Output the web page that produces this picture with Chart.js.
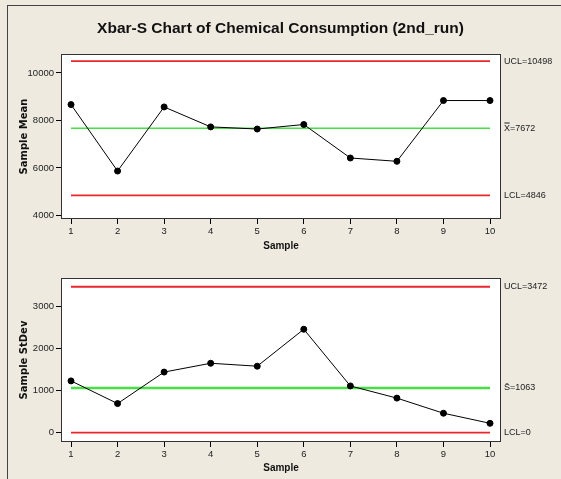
<!DOCTYPE html>
<html>
<head>
<meta charset="utf-8">
<script src="https://cdn.jsdelivr.net/npm/chart.js@4.4.1/dist/chart.umd.min.js"></script>
<style>
  body { margin: 0; background: #eeeae0; width: 561px; height: 479px; overflow: hidden; position: relative; }
  #frame { position: absolute; left: 7px; top: 5px; width: 700px; height: 700px; border-left: 1px solid #444; border-top: 1px solid #444; }
  canvas { position: absolute; left: 0; }
  #meanChart { top: 0; }
  #stdevChart { top: 256px; }
</style>
</head>
<body>
<div id="frame"></div>
<canvas id="meanChart" width="561" height="256"></canvas>
<canvas id="stdevChart" width="561" height="223"></canvas>
<script>
// --- datos ---
const samples = [1, 2, 3, 4, 5, 6, 7, 8, 9, 10];
const sampleMeans = [8670, 5870, 8570, 7730, 7640, 7830, 6420, 6280, 8840, 8840];
const sampleStDevs = [1230, 690, 1440, 1650, 1580, 2460, 1110, 820, 460, 220];

const meanTicks = [4000, 6000, 8000, 10000];
const stdevTicks = [0, 1000, 2000, 3000];

const meanUCL = 10498, meanCL = 7672, meanLCL = 4846;
const sdUCL = 3472, sdCL = 1063, sdLCL = 0;

const meanLabels = ['UCL=10498', 'X\u033F=7672', 'LCL=4846'];
const sdLabels = ['UCL=3472', 'S\u0304=1063', 'LCL=0'];

const NARROW = '"Liberation Sans Narrow", "Liberation Sans", Arial, sans-serif';
const RED = '#e8282c';
const GREEN = '#44e044';

// fondo blanco + marco + etiquetas de los límites
const framePlugin = {
  id: 'frame',
  beforeDraw(chart) {
    const { ctx, chartArea: a } = chart;
    ctx.save();
    ctx.fillStyle = '#fff';
    ctx.fillRect(a.left, a.top, a.right - a.left, a.bottom - a.top);
    ctx.restore();
  },
  afterDraw(chart, args, opts) {
    const { ctx, chartArea: a } = chart;
    ctx.save();
    ctx.strokeStyle = '#333';
    ctx.lineWidth = 1;
    ctx.strokeRect(a.left + 0.5, a.top + 0.5, a.right - a.left - 1, a.bottom - a.top - 1);
    const y = chart.scales.y;
    ctx.fillStyle = '#222';
    ctx.font = '9px ' + NARROW;
    ctx.textBaseline = 'middle';
    ctx.textAlign = 'left';
    (opts.items || []).forEach(it => {
      ctx.fillText(it.text, a.right + 3, y.getPixelForValue(it.value));
    });
    ctx.restore();
  }
};

function limitSet(value, color, width) {
  return {
    data: [{ x: samples[0], y: value }, { x: samples[samples.length - 1], y: value }],
    borderColor: color,
    borderWidth: width,
    pointRadius: 0,
    order: 2
  };
}

function makeChart(id, values, ticks, limits, labels, yTitle, yMin, yMax, opts) {
  const ctx = document.getElementById(id).getContext('2d');
  return new Chart(ctx, {
    type: 'line',
    data: {
      datasets: [
        {
          data: samples.map((s, i) => ({ x: s, y: values[i] })),
          borderColor: '#000',
          borderWidth: 1,
          pointRadius: 3,
          pointBackgroundColor: '#000',
          pointBorderColor: '#000',
          order: 1
        },
        limitSet(limits[0], RED, 1.8),
        limitSet(limits[1], GREEN, opts.greenWidth),
        limitSet(limits[2], RED, 1.8)
      ]
    },
    options: {
      responsive: false,
      animation: false,
      layout: { padding: { top: opts.padTop, left: 0, right: 0, bottom: 0 } },
      plugins: {
        legend: { display: false },
        tooltip: { enabled: false },
        title: opts.title ? {
          display: true,
          text: opts.title,
          color: '#111',
          font: { family: NARROW, size: 15.5, weight: 'bold' },
          padding: { top: 19, bottom: 16.4 }
        } : { display: false },
        frame: {
          items: limits.map((v, i) => ({ value: v, text: labels[i] }))
        }
      },
      scales: {
        x: {
          type: 'linear',
          min: 0.785,
          max: 10.236,
          afterBuildTicks: s => { s.ticks = samples.map(v => ({ value: v })); },
          afterFit: s => { s.height = 37; },
          grid: { drawOnChartArea: false, drawTicks: true, tickLength: 5, color: '#000' },
          border: { display: false },
          ticks: { color: '#222', font: { family: NARROW, size: 9.5 }, padding: 2, maxRotation: 0, callback: v => String(v) },
          title: {
            display: true, text: 'Sample', color: '#111',
            font: { family: NARROW, size: 10, weight: 'bold' },
            padding: { top: 0, bottom: opts.xTitlePad }
          }
        },
        y: {
          type: 'linear',
          position: 'left',
          min: yMin,
          max: yMax,
          afterBuildTicks: s => { s.ticks = ticks.map(v => ({ value: v })); },
          afterFit: s => { s.width = 61; },
          grid: { drawOnChartArea: false, drawTicks: true, tickLength: 5, color: '#000' },
          border: { display: false },
          ticks: { color: '#222', font: { family: NARROW, size: 9.5 }, padding: 2, callback: v => String(v) },
          title: {
            display: true, text: yTitle, color: '#111',
            font: { family: '"DejaVu Sans", Verdana, sans-serif', size: 10, weight: 'bold' },
            padding: { top: 18, bottom: 0 }
          }
        },
        yRight: {
          type: 'linear',
          position: 'right',
          afterFit: s => { s.width = 60; },
          grid: { display: false },
          border: { display: false },
          ticks: { display: false }
        }
      }
    },
    plugins: [framePlugin]
  });
}

makeChart('meanChart', sampleMeans, meanTicks, [meanUCL, meanCL, meanLCL], meanLabels,
  'Sample Mean', 3850, 10800,
  { title: 'Xbar-S Chart of Chemical Consumption (2nd_run)', padTop: 0, greenWidth: 1.5, xTitlePad: 3.4 });

makeChart('stdevChart', sampleStDevs, stdevTicks, [sdUCL, sdCL, sdLCL], sdLabels,
  'Sample StDev', -225, 3680,
  { title: null, padTop: 22, greenWidth: 2.5, xTitlePad: 4.4 });
</script>
</body>
</html>
